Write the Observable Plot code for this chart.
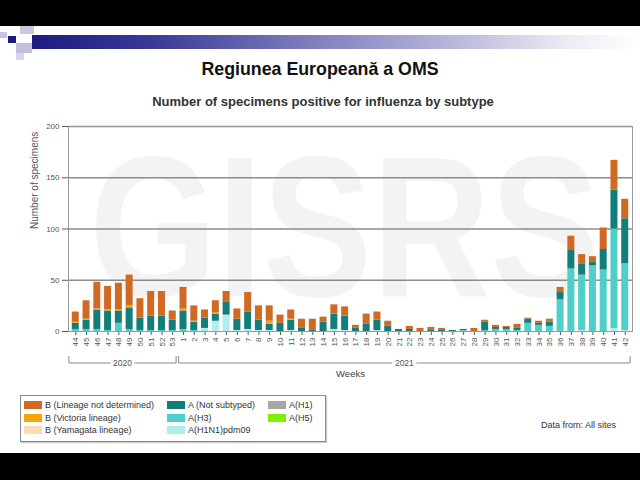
<!DOCTYPE html>
<html>
<head>
<meta charset="utf-8">
<script src="https://cdn.jsdelivr.net/npm/d3@7"></script>
<script src="https://cdn.jsdelivr.net/npm/@observablehq/plot@0.6"></script>
<style>
  body { margin: 0; background: #fff; font-family: Arial, "Liberation Sans", sans-serif; }
  #page { position: relative; width: 640px; height: 480px; overflow: hidden; background: #fff; }
  .abs { position: absolute; }
  .sq { position: absolute; }
  #legend { position: absolute; left: 20px; top: 395px; width: 304px; height: 45px; border: 1px solid #8a8a8a; box-shadow: 1px 1px 1px #ccc; background: #fff; }
  .li { position: absolute; font-size: 9px; color: #333; line-height: 10px; white-space: nowrap; }
  .sw { position: absolute; width: 18px; height: 8px; }
</style>
</head>
<body>
<div id="page">
  <div class="abs" style="left:0;top:0;width:640px;height:26px;background:#000"></div>
  <div class="abs" style="left:32px;top:35px;width:608px;height:14px;background:linear-gradient(to right,#1b1b82 0%,#3a3a98 20%,#7c7cbc 45%,#b9b9dc 70%,#ebebf5 88%,#ffffff 100%)"></div>
  <div class="sq" style="left:0;top:32px;width:7px;height:6px;background:#c4c4e0"></div>
  <div class="sq" style="left:8px;top:36px;width:8px;height:7px;background:#1b1b82"></div>
  <div class="sq" style="left:20px;top:26px;width:14px;height:8px;background:#c8c8e2"></div>
  <div class="sq" style="left:16px;top:43px;width:16px;height:10px;background:#c0c0de"></div>
  <div class="sq" style="left:16px;top:53px;width:8px;height:7px;background:#d4d4ea"></div>
  <div class="abs" style="left:0;top:453px;width:640px;height:27px;background:#000"></div>
  <div class="abs" style="left:0;top:59px;width:640px;text-align:center;font-weight:bold;font-size:17.8px;line-height:21px;color:#111">Regiunea Europeană a OMS</div>
  <div class="abs" style="left:3px;top:94px;width:640px;text-align:center;font-weight:bold;font-size:13px;line-height:15px;color:#333">Number of specimens positive for influenza by subtype</div>
  <div class="abs" id="chart" style="left:0;top:90px"></div>
  <div id="legend"></div>
  <div class="abs" style="left:541px;top:420px;font-size:9px;color:#333">Data from: All sites</div>
</div>
<script>
// ---- data ----
const weeks = ["44","45","46","47","48","49","50","51","52","53",
  "1","2","3","4","5","6","7","8","9","10","11","12","13","14","15","16","17","18","19","20",
  "21","22","23","24","25","26","27","28","29","30","31","32","33","34","35","36","37","38","39","40","41","42"];
const years = ["2020", "2021"];
const yearFirstWeek = ["44", "1"];
const yearLastWeek = ["53", "42"];

const seriesNames = ["B (Lineage not determined)", "B (Victoria lineage)", "B (Yamagata lineage)",
  "A (Not subtyped)", "A(H3)", "A(H1N1)pdm09", "A(H1)", "A(H5)"];
const seriesColors = ["#d06a22", "#f5a500", "#fddcb0", "#127d79", "#4fcfc8", "#b0eeec", "#a6a6a6", "#7ff000"];
const stackOrder = ["A(H1)", "A(H1N1)pdm09", "A(H3)", "A(H5)", "A (Not subtyped)", "B (Yamagata lineage)", "B (Victoria lineage)", "B (Lineage not determined)"];

const bNotDetermined = [10,18,26,23,26,30,19,24,24,9, 21,15,8,12,10,10,19,14,15,8,9,9,11,5,9,9,3,10,8,5, 0,3,3,3,2,0,0,3,2,2,1,4,1,2,3,5,14,9,5,21,29,19];
const bVictoria      = [1,1,1,1,1,2,0,0,0,0, 2,1,0,1,0,0,0,0,3,0,1,0,0,0,0,0,0,0,0,0, 0,0,0,0,0,0,0,0,0,0,0,0,0,0,0,0,0,0,0,0,0,0];
const bYamagata      = weeks.map(() => 0);
const aNotSubtyped   = [6,9,19,19,12,21,12,14,14,10, 18,8,10,7,13,11,17,10,6,8,10,3,1,9,15,14,3,7,10,5, 2,2,0,1,1,1,1,0,8,2,2,2,4,2,4,7,18,11,4,20,38,44];
const aH3            = [2,2,2,1,8,2,1,1,1,1, 2,1,0,0,0,0,0,0,0,0,0,0,0,0,0,0,0,0,0,0, 0,0,0,0,0,0,1,0,1,2,2,1,8,6,5,31,61,54,64,60,97,65];
const aH1N1pdm09     = [0,0,0,0,0,0,0,0,0,0, 0,0,3,10,16,1,2,1,1,0,1,0,0,0,2,1,0,0,1,0, 0,0,0,0,0,0,0,0,0,0,0,0,0,0,0,0,0,1,0,0,3,1];
const aH1            = weeks.map(() => 0);
const aH5            = weeks.map(() => 0);

const yTickValues = [0, 50, 100, 150, 200];
const gridValues = [50, 100, 150, 200];

const seriesValues = {
  "B (Lineage not determined)": bNotDetermined,
  "B (Victoria lineage)": bVictoria,
  "B (Yamagata lineage)": bYamagata,
  "A (Not subtyped)": aNotSubtyped,
  "A(H3)": aH3,
  "A(H1N1)pdm09": aH1N1pdm09,
  "A(H1)": aH1,
  "A(H5)": aH5
};

const rows = [];
weeks.forEach((w, i) => {
  for (const s of stackOrder) rows.push({week: w, series: s, value: seriesValues[s][i]});
});

const plot = Plot.plot({
  width: 640, height: 295,
  marginLeft: 68, marginRight: 8, marginTop: 36, marginBottom: 54,
  style: {fontFamily: "Arial, 'Liberation Sans', sans-serif", fontSize: "8px", color: "#555", background: "transparent", overflow: "visible"},
  x: {domain: weeks, padding: 0.35, label: null, tickRotate: -90, tickSize: 4, tickPadding: 2},
  y: {domain: [0, 200], ticks: yTickValues, tickSize: 6, tickPadding: 3, label: null},
  color: {domain: seriesNames, range: seriesColors},
  marks: [
    Plot.text(["GISRS"], {frameAnchor: "middle", text: d => d, fontSize: 200, fontWeight: "bold", fill: "#f3f3f3", dx: -5, dy: 3}),
    Plot.ruleY(gridValues, {stroke: "#8c8c8c", strokeWidth: 1.5}),
    Plot.frame({stroke: "#9a9a9a"}),
    Plot.barY(rows, {x: "week", y: "value", fill: "series"}),
    Plot.text(["Number of specimens"], {frameAnchor: "left", text: d => d, dx: -34, rotate: -90, fontSize: 10, fill: "#555"}),
    Plot.text(["Weeks"], {frameAnchor: "bottom", text: d => d, dy: 45, fontSize: 9.5, fill: "#444"})
  ]
});
document.getElementById("chart").appendChild(plot);

// watermark: condense horizontally around its centre
const wm = d3.select(plot).selectAll("text").filter(function() { return this.textContent === "GISRS"; });
wm.each(function() {
  const cx = (68 + 632) / 2 - 5;
  const parent = this.parentNode;
  const wrap = document.createElementNS("http://www.w3.org/2000/svg", "g");
  wrap.setAttribute("transform", `translate(${cx},0) scale(0.82,1) translate(${-cx},0)`);
  parent.insertBefore(wrap, this);
  wrap.appendChild(this);
});

// year brackets from the x scale
const xs = plot.scale("x");
const bw = xs.bandwidth;
const step = xs.step;
const gap = (step - bw) / 2;
const svg = d3.select(plot);
const g = svg.append("g").attr("stroke", "#8a8a8a").attr("fill", "none").attr("stroke-width", 1);
const yb = 273, yt = 266;
years.forEach((yr, k) => {
  let x0 = xs.apply(yearFirstWeek[k]) - gap;
  let x1 = xs.apply(yearLastWeek[k]) + bw + gap;
  x0 += (k === 0 ? -1 : 1);
  x1 -= (k === 0 ? 1.5 : 0);
  const cx = (x0 + x1) / 2;
  g.append("path").attr("d", `M${x0},${yt}V${yb}H${cx - 12}M${cx + 12},${yb}H${x1}V${yt}`);
  svg.append("text").attr("x", cx).attr("y", yb).attr("dy", "0.32em").attr("text-anchor", "middle")
    .attr("font-size", 8.5).attr("fill", "#555").text(yr);
});

// legend
const legendLayout = [[0,0],[0,1],[0,2],[1,0],[1,1],[1,2],[2,0],[2,1]];
const colX = [3, 146, 247];
const rowY = [4, 16.5, 29];
const legend = d3.select("#legend");
seriesNames.forEach((name, i) => {
  const [c, r] = legendLayout[i];
  legend.append("div").attr("class", "sw")
    .style("left", colX[c] + "px").style("top", (rowY[r] + 1) + "px").style("background", seriesColors[i]);
  legend.append("div").attr("class", "li")
    .style("left", (colX[c] + 21) + "px").style("top", rowY[r] + "px").text(name);
});
</script>
</body>
</html>
